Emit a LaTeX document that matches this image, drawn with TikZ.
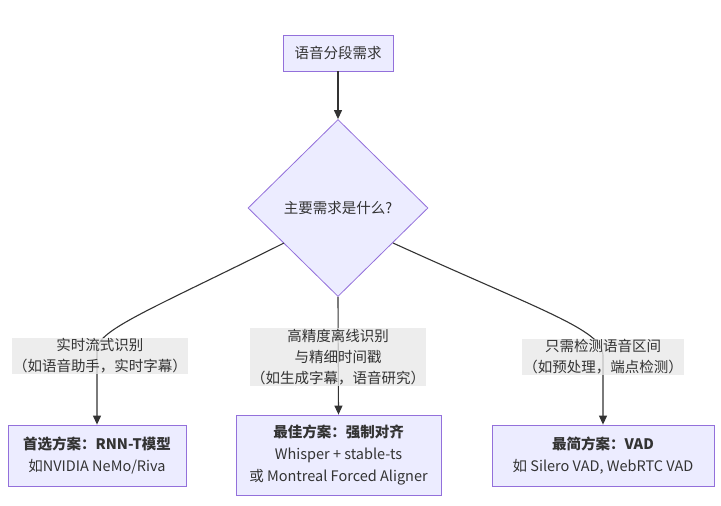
\documentclass[tikz,border=0pt]{standalone}
\usepackage{fontspec}
\setmainfont{Noto Sans CJK SC}
\usetikzlibrary{shapes.geometric,arrows.meta}
\definecolor{fillc}{HTML}{ECECFF}
\definecolor{strokec}{HTML}{9370DB}
\definecolor{txt}{HTML}{333333}
\definecolor{lab}{HTML}{E8E8E8}
\begin{document}
\begin{tikzpicture}[x=1pt,y=-1pt,
  box/.style={draw=strokec,fill=fillc,line width=0.8pt,text=txt,font=\fontsize{14.5}{22}\selectfont,align=center,inner sep=0pt},
  lbl/.style={fill=lab,fill opacity=0.8,text opacity=1,text=txt,font=\fontsize{14.5}{21}\selectfont,align=center,inner sep=1pt},
  edge/.style={draw=txt,line width=1.1pt},
  arr/.style={edge,-{Triangle[length=9pt,width=8pt]}}]
\useasboundingbox (0,0) rectangle (721,506);
\node[box,minimum width=110,minimum height=36] (top) at (338,53) {语音分段需求};
\node[box,diamond,aspect=1.02,minimum width=180,minimum height=177] (d) at (338,208) {主要需求是什么?};
\node[box,minimum width=178,minimum height=61] (b1) at (97,455.5) {\textbf{首选方案：RNN-T模型}\\如NVIDIA NeMo/Riva};
\node[box,minimum width=205,minimum height=80] (b2) at (338.5,455) {\textbf{最佳方案：强制对齐}\\Whisper + stable-ts\\或 Montreal Forced Aligner};
\node[box,minimum width=222,minimum height=61] (b3) at (603,455.5) {\textbf{最简方案：VAD}\\如 Silero VAD, WebRTC VAD};
\coordinate (s1) at (284,243);
\coordinate (s3) at (393,243);
\coordinate (l1) at (97,350);
\coordinate (l3) at (603,355);
\draw[arr] (top) -- (d.north);
\draw[arr] (s1) .. controls (150,310) and (97,330) .. (l1) -- (b1.north);
\draw[arr] (d.south) -- (b2.north);
\draw[arr] (s3) .. controls (540,310) and (603,330) .. (l3) -- (b3.north);
\node[lbl] at (100,356) {实时流式识别\\（如语音助手，实时字幕）};
\node[lbl] at (338,357) {高精度离线识别\\与精细时间戳\\（如生成字幕，语音研究）};
\node[lbl] at (603,357) {只需检测语音区间\\（如预处理，端点检测）};
\end{tikzpicture}
\end{document}
